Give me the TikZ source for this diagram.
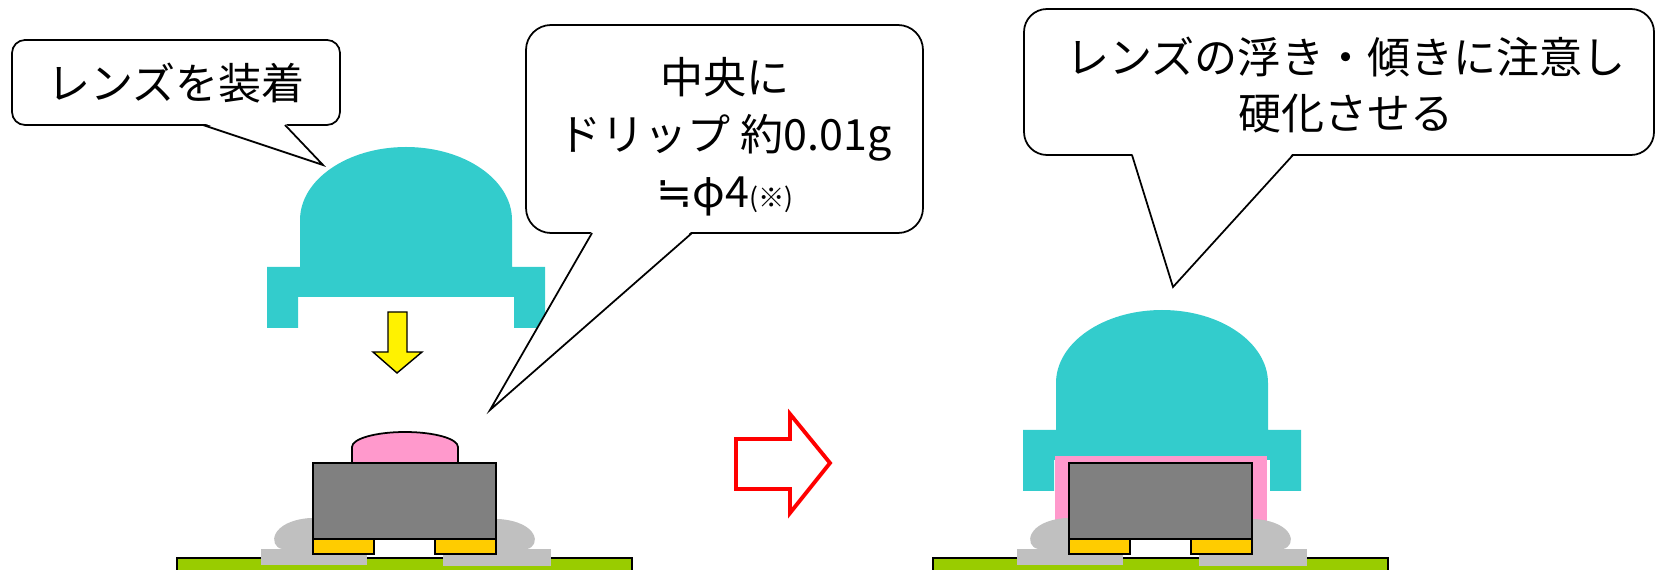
\documentclass[tikz,border=0pt]{standalone}
\usepackage{fontspec}
\setmainfont{Noto Sans CJK JP}
\newfontfamily\symfont{DejaVu Sans}
\usepackage{xcolor}
\usepackage{tikz}
\definecolor{lenscyan}{HTML}{33CCCC}
\definecolor{resinpink}{HTML}{FF99CC}
\definecolor{chipgray}{HTML}{808080}
\definecolor{padgold}{HTML}{FFCC00}
\definecolor{soldergray}{HTML}{C0C0C0}
\definecolor{boardgreen}{HTML}{99CC00}
\tikzstyle{bubble}=[draw=black, fill=white, line width=1pt]
\tikzstyle{bubble tail}=[draw=black, line width=1pt, line join=miter]
\tikzstyle{jptext}=[inner sep=0pt, align=center, font=\fontsize{24.5}{32.4}\selectfont]
\tikzstyle{lens}=[fill=lenscyan]
\tikzstyle{resin}=[fill=resinpink]
\tikzstyle{chip}=[fill=chipgray, draw=black, line width=1.5pt]
\tikzstyle{pad}=[fill=padgold, draw=black, line width=1.5pt]
\tikzstyle{solder}=[fill=soldergray]
\tikzstyle{board}=[fill=boardgreen, draw=black, line width=1.2pt]
\tikzstyle{drop arrow}=[fill=yellow, draw=black, line width=0.8pt]
\tikzstyle{next arrow}=[fill=white, draw=red, line width=2.2pt]

% lens seen from the side, dome on a flange with two legs
\newcommand{\lensbody}{%
  \fill[lens] (267,328) -- (267,267) -- (300,267) -- (300,220)
    .. controls (300,179.7) and (347.5,147) .. (406,147)
    .. controls (464.5,147) and (512,179.7) .. (512,220)
    -- (512,267) -- (545,267) -- (545,328) -- (514,328) -- (514,297)
    -- (298,297) -- (298,328) -- cycle;}

% board, solder fillets, pads and LED package
\newcommand{\mountbase}{%
  \draw[board] (177,558) rectangle (632,590);
  \fill[solder] (261,549) rectangle (367,565);
  \fill[solder] (443,549) rectangle (551,566);
  \fill[solder] (282,549) .. controls (268,546) and (270,521) .. (310,518)
    -- (340,518) -- (340,549) -- cycle;
  \fill[solder] (527,549) .. controls (541,546) and (539,522) .. (499,519)
    -- (469,519) -- (469,549) -- cycle;
  \draw[pad] (313,539) rectangle (374,554);
  \draw[pad] (435,539) rectangle (496,554);
  \draw[chip] (313,463) rectangle (496,539);}

\begin{document}
\begin{tikzpicture}[x=0.02cm, y=-0.02cm]
    \useasboundingbox (0,0) rectangle (1656,570);
    \clip (0,0) rectangle (1656,570);

    % before: lens above, resin dropped on the package
    \lensbody
    \draw[drop arrow] (388,312) -- (407,312) -- (407,352) -- (422,352)
        -- (397,373) -- (373,352) -- (388,352) -- cycle;
    \draw[resin, draw=black, line width=1pt] (352,463) -- (352,447)
        .. controls (352,438.7) and (375.7,432) .. (405,432)
        .. controls (434.3,432) and (458,438.7) .. (458,447) -- (458,463);
    \mountbase

    \draw[next arrow] (736,439) -- (790,439) -- (790,414) -- (830,463)
        -- (790,513) -- (790,489) -- (736,489) -- cycle;

    % after: lens seated on the resin
    \begin{scope}[shift={(756,163)}]
        \lensbody
    \end{scope}
    \begin{scope}[shift={(756,0)}]
        \fill[resin] (299,456) rectangle (511,530);
        \mountbase
    \end{scope}

    % speech bubbles
    \draw[bubble, rounded corners=0.26cm] (12,40) rectangle (340,125);
    \fill[white] (203,123) -- (323,165) -- (285,123) -- cycle;
    \draw[bubble tail] (203,125) -- (323,165) -- (285,125);
    \node[jptext] (mount) at (176,83) {レンズを装着};

    \draw[bubble, rounded corners=0.5cm] (526,25) rectangle (923,233);
    \fill[white] (592,231) -- (490,410) -- (692,231) -- cycle;
    \draw[bubble tail] (592,233) -- (490,410) -- (692,233);
    \node[jptext] (drip) at (725,137)
        {中央に\\ドリップ 約0.01g\\{\symfont ≒}φ4{\fontsize{15}{15}\selectfont(※)}};

    \draw[bubble, rounded corners=0.46cm] (1024,9) rectangle (1654,155);
    \fill[white] (1132,153) -- (1173,287) -- (1293,153) -- cycle;
    \draw[bubble tail] (1132,155) -- (1173,287) -- (1293,155);
    \node[jptext] (cure) at (1346,85) {レンズの浮き・傾きに注意し\\硬化させる};
\end{tikzpicture}
\end{document}
